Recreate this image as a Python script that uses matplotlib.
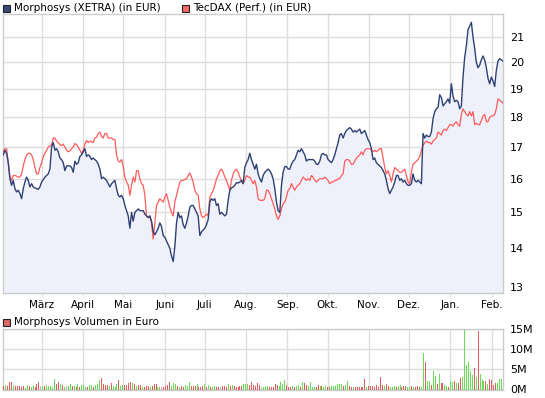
import matplotlib
matplotlib.use("Agg")
import matplotlib.pyplot as plt
from matplotlib.patches import Rectangle
from matplotlib.ticker import FixedLocator, NullLocator
import pandas as pd

# Kursverlauf (Schlusskurse), Jan 2011 - Feb 2012
morphosys = [
    16.75, 16.9, 16.8, 16.5, 16.0, 15.8, 15.95, 15.7, 15.6, 15.65,
    15.55, 15.4, 15.7, 15.9, 16.05, 15.95, 15.75, 15.85, 15.75, 15.72,
    15.7, 15.68, 15.75, 15.9, 15.97, 16.05, 16.1, 16.15, 16.3, 17.0,
    17.15, 16.9, 16.95, 16.85, 16.65, 16.6, 16.5, 16.25, 16.4, 16.4,
    16.4, 16.35, 16.2, 16.55, 16.45, 16.5, 16.7, 16.75, 16.85, 16.95,
    16.7, 16.75, 16.7, 16.6, 16.65, 16.6, 16.55, 16.45, 16.3, 16.0,
    16.05, 16.0, 15.95, 15.85, 15.75, 15.85, 15.9, 15.95, 15.7, 15.5,
    15.45, 15.5, 15.4, 15.2, 15.05, 14.9, 14.55, 15.0, 14.75, 15.0,
    15.05, 15.1,
    15.05, 15.05, 15.05, 14.95, 14.9, 14.85, 14.9, 14.75, 14.45, 14.37,
    14.45, 14.55, 14.7, 14.6, 14.35, 14.3, 14.2, 14.1, 14.0, 13.8,
    13.65, 14.05, 14.7, 15.0, 14.85, 14.9, 14.65, 14.55, 14.7, 14.9,
    15.15, 15.2, 15.2, 15.1, 15.0, 14.9, 14.35, 14.45, 14.5, 14.55,
    14.65, 14.8, 15.3, 15.4, 15.35, 15.4, 15.2, 15.25, 14.95, 15.0,
    14.95, 14.9, 14.95, 15.35, 15.65, 15.72, 15.75, 15.8, 15.88, 15.87,
    15.9, 15.95, 15.85, 16.35, 16.5, 16.6, 16.8, 16.6, 16.45, 16.3,
    16.45, 16.15, 16.0, 15.9, 16.1, 16.2, 16.25, 16.3,
    16.25, 16.15, 16.0, 15.7, 15.3, 15.05, 15.0, 15.8, 16.2, 16.38,
    16.38, 16.3, 16.3, 16.45, 16.55, 16.6, 16.75, 16.9, 16.85, 16.95,
    16.85, 16.75, 16.55, 16.6, 16.6, 16.6, 16.6, 16.55, 16.45, 16.45,
    16.55, 16.75, 16.8, 16.75, 16.75, 16.6, 16.55, 16.5, 16.6, 16.75,
    16.95, 17.15, 17.4, 17.45, 17.3, 17.45, 17.55, 17.6, 17.65, 17.6,
    17.5, 17.55, 17.5, 17.55, 17.6, 17.45, 17.5, 17.55, 17.4, 17.25,
    17.15, 16.95, 16.6, 16.65, 16.5, 16.45, 16.4, 16.35, 16.25, 16.15,
    15.95, 15.7, 15.55, 15.65, 15.75, 15.9, 16.1, 16.1,
    15.95, 16.0, 15.9, 15.95, 15.85, 15.8, 15.8, 15.85, 16.15, 15.95,
    15.9, 15.95, 15.9, 15.85, 17.45, 17.3, 17.4, 17.35, 17.35, 17.5,
    17.95, 18.2, 18.3, 18.35, 18.8, 18.7, 18.4, 18.48, 18.55, 18.65,
    18.5, 19.2, 18.75, 18.55, 18.6, 18.55, 18.3, 18.4, 19.45, 20.2,
    20.65, 21.3, 21.45, 21.6, 21.0, 20.55, 20.0, 19.8, 19.9, 20.1,
    20.25, 20.1, 19.8, 19.4, 19.2, 19.45, 19.3, 19.1, 19.7, 20.05,
    20.15, 20.1, 20.05,
]

tecdax = [
    16.85, 16.95, 16.95, 16.5, 16.05, 15.95, 16.1, 16.1, 16.08, 16.05,
    16.05, 16.15, 16.4, 16.6, 16.75, 16.8, 16.8, 16.75, 16.6, 16.35,
    16.15, 16.15, 16.35, 16.5, 16.7, 16.8, 16.9, 17.0, 17.05, 17.08,
    17.3, 17.3, 17.2, 17.15, 17.08, 17.05, 17.1, 17.0, 16.9, 16.85,
    16.88, 16.95, 17.0, 17.12, 17.08, 17.0, 16.9, 16.8, 16.9, 17.1,
    17.22, 17.15, 17.2, 17.17, 17.15, 17.3, 17.33, 17.45, 17.5, 17.35,
    17.3, 17.45, 17.45, 17.3, 17.3, 17.3, 17.25, 17.25, 16.75, 16.55,
    16.52, 16.6, 16.4, 16.05, 15.9, 15.8, 15.5, 15.8, 16.05, 15.9,
    16.25, 16.25,
    16.0, 15.85, 15.8, 15.5, 14.9, 14.85, 14.9, 14.7, 14.25, 14.7,
    15.2, 15.3, 15.4, 15.35, 15.3, 15.45, 15.55, 15.35, 15.15, 15.0,
    14.9, 15.3, 15.5, 15.7, 15.9, 15.95, 15.95, 15.98, 16.0, 16.1,
    16.18, 16.05, 15.9, 15.65, 15.55, 15.5, 15.1, 14.9, 14.85, 14.9,
    14.95, 14.9, 15.45, 15.55, 15.65, 15.8, 16.0, 16.1, 16.25, 16.3,
    16.2, 16.05, 15.95, 15.8, 15.65, 15.95, 16.15, 16.25, 16.3, 16.2,
    16.05, 15.95, 15.85, 15.95, 16.1, 16.05, 16.05, 15.95, 15.85, 15.95,
    15.75, 15.4, 15.35, 15.35, 15.35, 15.4, 15.65, 15.65,
    15.55, 15.4, 15.25, 15.1, 14.9, 14.8, 14.9, 15.1, 15.25, 15.3,
    15.45, 15.65, 15.7, 15.85, 15.75, 15.65, 15.75, 15.8, 15.85, 15.95,
    16.05, 16.0, 15.95, 16.0, 15.95, 16.1, 16.05, 15.95, 15.9, 15.95,
    16.0, 16.0, 16.0, 16.05, 16.0, 15.95, 15.85, 15.9, 15.9, 15.95,
    15.95, 16.0, 16.0, 16.1, 16.15, 16.55, 16.6, 16.6, 16.55, 16.45,
    16.45, 16.55, 16.65, 16.7, 16.75, 16.85, 16.75, 16.9, 16.95, 16.95,
    16.95, 16.9, 16.85, 16.9, 16.85, 16.9, 16.95, 16.95, 16.65, 16.35,
    16.15, 16.25, 16.1, 15.9, 16.15, 16.35, 16.3, 16.25,
    16.2, 16.2, 16.25, 16.3, 16.1, 15.9, 15.85, 16.2, 16.45, 16.5,
    16.55, 16.6, 16.7, 16.9, 17.05, 17.15, 17.2, 17.15, 17.15, 17.1,
    17.2, 17.25, 17.3, 17.5, 17.45, 17.4, 17.55, 17.6, 17.55, 17.65,
    17.75, 17.75, 17.7, 17.8, 17.85, 17.75, 17.7, 18.1, 18.3, 18.2,
    18.1, 18.05, 18.2, 18.05, 18.2, 17.75, 17.8, 17.75, 17.75, 17.9,
    18.05, 18.1, 17.85, 17.85, 18.0, 18.05, 18.05, 18.1, 18.3, 18.65,
    18.6, 18.55, 18.5,
]

# Handelsvolumen in Mio. Euro
volumen = [
    0.8, 1.1, 0.8, 1.8, 1.8, 1.1, 0.8, 0.8, 0.7, 0.6,
    0.8, 0.3, 1.1, 0.8, 0.6, 1.1, 0.6, 1.3, 1.8, 0.8,
    0.8, 0.8, 1.1, 0.8, 0.8, 0.6, 2.6, 1.3, 1.8, 1.3,
    1.1, 0.6, 0.8, 0.8, 1.3, 0.8, 0.8, 0.4, 1.3, 0.4,
    1.1, 1.1, 0.6, 0.6, 1.1, 1.1, 0.6, 1.1, 1.3, 2.3,
    2.8, 1.3, 1.1, 1.1, 0.8, 1.6, 0.8, 0.6, 1.3, 2.3,
    0.8, 1.1, 1.1, 1.1, 1.6, 1.8, 1.6, 1.3, 0.8, 1.1,
    1.1, 0.6, 0.4, 0.8, 0.8, 0.4, 0.8, 1.3, 1.3, 0.6,
    0.6, 0.4, 0.6, 0.8, 1.1, 1.8, 0.8, 1.6, 1.3, 0.8,
    0.4, 0.8, 0.6, 1.1, 0.8, 1.8, 0.8, 0.8, 0.8, 1.3,
    0.6, 0.6, 0.8, 1.3, 0.6, 1.1, 0.6, 0.6, 0.8, 0.6,
    0.6, 0.4, 0.8, 0.8, 0.6, 1.3, 0.8, 1.1, 0.8, 0.6,
    0.6, 0.8, 0.8, 1.3, 1.3, 1.3, 1.1, 1.8, 1.1, 0.8,
    1.6, 1.1, 0.4, 0.6, 0.6, 0.8, 0.6, 0.4, 0.6, 1.3,
    1.1, 0.8, 1.8, 1.3, 2.3, 1.1, 0.6, 0.6, 0.8, 0.6,
    0.8, 1.1, 0.6, 1.8, 1.6, 1.1, 0.8, 1.8, 0.6, 0.6,
    0.4, 1.1, 0.8, 0.8, 0.6, 0.8, 0.6, 0.6, 0.8, 0.8,
    0.8, 1.3, 1.3, 1.3, 0.8, 1.1, 2.1, 0.8, 0.6, 0.6,
    0.6, 0.6, 0.6, 0.6, 0.4, 2.6, 0.6, 0.8, 0.8, 0.8,
    0.6, 1.1, 0.6, 3.1, 1.1, 0.8, 1.3,
    0.8, 0.6, 0.6, 0.8, 0.6, 0.8, 1.1, 0.6, 0.8, 0.8,
    0.6, 0.6, 0.8, 0.6, 0.6, 0.8, 0.4, 0.6, 9.1, 6.8,
    2.1, 1.9, 1.1, 4.6, 3.3, 1.3, 3.8, 1.6, 1.6, 1.1,
    0.8, 0.6, 2.1, 1.8, 2.1, 1.4, 1.5, 2.8, 3.1, 14.8,
    6.1, 6.8, 4.6, 3.6, 5.3, 3.1, 14.6, 3.8, 2.3, 2.1,
    2.1, 1.3, 2.6, 2.3, 1.1, 1.6, 1.6, 2.6, 2.6, 0.4,
]
# Tagesrichtung je Balken: g = gestiegen, r = gefallen, n = unveraendert
richtung = (
    "rgrrrgrrrr" "rggrggrrrn" "grgggggrrg" "rgnggrgrgr" "gggrggrggg"
    "rrrrgrgggr" "ggrrrrgrgr" "rgrrrgrrrg" "gnrrrrgggr" "grrgggrrrg"
    "rrrgrgrggr" "rnrrrgrgrr" "rrrgggrrrr" "rrngggrrrr" "rggggrrrgr"
    "ggrgrrgggg" "rrgrggrrgg" "ggggrggrrg" "rrrrrrgrrr" "rrrrrgr"
    "rgggrggrrr" "ggrgrrrggr" "ggrggrgrrg" "grggrgrrgg" "ggggrgrggg"
    "rgrrrrgggr"
)

monate = ["März", "April", "Mai", "Juni", "Juli", "Aug.", "Sep.",
          "Okt.", "Nov.", "Dez.", "Jan.", "Feb."]

start = pd.Timestamp("2011-01-31")
ende = pd.Timestamp("2012-02-09 12:00")
tage = pd.date_range(start, ende, periods=len(morphosys))
vol_tage = pd.date_range(start, ende, periods=len(volumen))
monatsanfang = pd.date_range("2011-03-01", "2012-02-01", freq="MS")

NAVY = "#2f4173"
ROT = "#ff5b5b"
FILL = "#eef1fa"
GRID = "#dddddd"
farben = {"g": "#66dd55", "r": "#dd5e5e", "n": "#bbbbbb"}

plt.rcParams["font.family"] = ["DejaVu Sans"]
plt.rcParams["font.size"] = 7.5

fig = plt.figure(figsize=(5.45, 3.98), dpi=100)
W, H = 545.0, 398.0

ax = fig.add_axes([2.5 / W, 1 - 293 / H, 500.5 / W, 279 / H])
ax.set_yscale("log")
ax.fill_between(tage, morphosys, 12.0, color=FILL, lw=0, zorder=1)
ax.plot(tage, tecdax, color=ROT, lw=0.9, zorder=3)
ax.plot(tage, morphosys, color=NAVY, lw=1.0, zorder=4)
ax.set_ylim(12.85, 21.95)
ax.set_xlim(start - pd.Timedelta(hours=14), ende)

yt = list(range(13, 22))
ax.yaxis.set_major_locator(FixedLocator(yt))
ax.yaxis.set_minor_locator(NullLocator())
ax.set_yticklabels([str(v) for v in yt])
ax.yaxis.tick_right()
ax.set_xticks(monatsanfang)
ax.set_xticklabels(monate)
ax.tick_params(axis="y", length=0, pad=5, labelsize=8)
ax.tick_params(axis="x", length=3, color=GRID, pad=2, labelsize=7.5)
ax.grid(True, color=GRID, lw=1, zorder=0)
ax.set_axisbelow(True)
for s in ax.spines.values():
    s.set_color("#cccccc")
    s.set_linewidth(1)

# Volumen-Panel
axv = fig.add_axes([2.5 / W, 1 - 390 / H, 500.5 / W, 61 / H])
axv.vlines(vol_tage, 0, [v * 1e6 for v in volumen],
           colors=[farben[c] for c in richtung], lw=0.72,
           antialiased=False, zorder=3)
axv.set_xlim(ax.get_xlim())
axv.set_ylim(-0.25e6, 15e6)
axv.set_yticks([0, 5e6, 10e6, 15e6])
axv.set_yticklabels(["0M", "5M", "10M", "15M"])
axv.yaxis.tick_right()
axv.set_xticks(monatsanfang)
axv.set_xticklabels([])
axv.tick_params(axis="y", length=0, pad=5, labelsize=8)
axv.tick_params(axis="x", length=0)
axv.grid(True, color=GRID, lw=1, zorder=0)
axv.set_axisbelow(True)
for s in axv.spines.values():
    s.set_color("#cccccc")
    s.set_linewidth(1)


def legende(x, y, farbe, text):
    fig.patches.append(Rectangle((x / W, 1 - (y + 4) / H), 7 / W, 7 / H,
                                 transform=fig.transFigure, facecolor=farbe,
                                 edgecolor="#222222", lw=0.8))
    fig.text((x + 11) / W, 1 - y / H, text, va="center", ha="left", fontsize=7.5)


legende(3, 8, "#3b4a7a", "Morphosys (XETRA) (in EUR)")
legende(182, 8, "#ff6666", "TecDAX (Perf.) (in EUR)")
legende(3, 322, "#dd6666", "Morphosys Volumen in Euro")

fig.savefig("out.png", dpi=100)
